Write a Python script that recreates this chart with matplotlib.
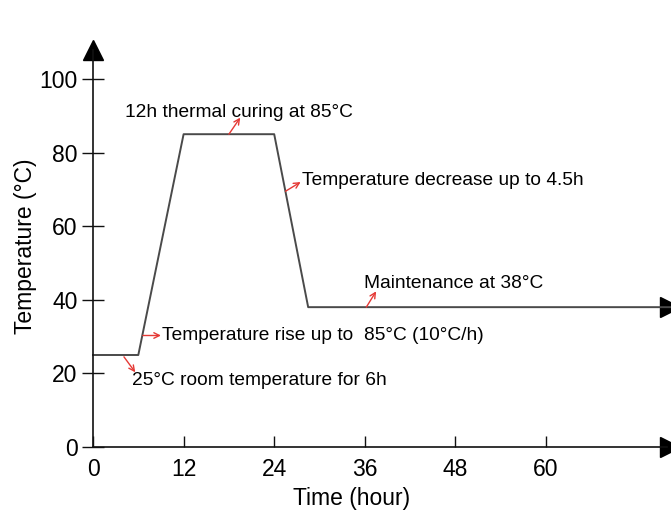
import matplotlib
matplotlib.use("Agg")
import matplotlib.pyplot as plt

plt.rcParams['font.family'] = ['Liberation Sans', 'DejaVu Sans']

# Data: temperature profile
time_h = [0, 6, 12, 24, 28.5, 76.6]
temp_c = [25, 25, 85, 85, 38, 38]

x_ticks = [0, 12, 24, 36, 48, 60]
y_ticks = [0, 20, 40, 60, 80, 100]

# annotations: (text, arrow start (x,y), arrow end (x,y), text pos (x,y))
annotations = [
    ("12h thermal curing at 85°C", (18.0, 85), (19.5, 89.5), (4.3, 91.0)),
    ("Temperature decrease up to 4.5h", (25.5, 69.5), (27.5, 72), (27.7, 72.5)),
    ("Maintenance at 38°C", (36.2, 38), (37.5, 42.3), (35.9, 44.5)),
    ("Temperature rise up to  85°C (10°C/h)", (6.6, 30.3), (9.0, 30.3), (9.2, 30.3)),
    ("25°C room temperature for 6h", (4.1, 24.5), (5.6, 20.3), (5.1, 18.0)),
]

W, H = 671, 514
fig = plt.figure(figsize=(W / 100, H / 100), dpi=100)
ax = fig.add_axes([0, 0, 1, 1])

px_per_h = 7.55
px_per_c = 3.68
x0_px, y0_px = 93, 447
ax.set_xlim(-x0_px / px_per_h, (W - x0_px) / px_per_h)
ax.set_ylim(-(H - y0_px) / px_per_c, y0_px / px_per_c)

axis_col = '#111111'
line_col = '#4a4a4a'
red = '#e53935'

for s in ['top', 'right']:
    ax.spines[s].set_visible(False)
ax.spines['left'].set_position(('data', 0))
ax.spines['bottom'].set_position(('data', 0))
ax.spines['left'].set_bounds(0, 108)
ax.spines['bottom'].set_bounds(0, 76)
for s in ['left', 'bottom']:
    ax.spines[s].set_color(axis_col)
    ax.spines[s].set_linewidth(1.2)

ax.set_xticks(x_ticks)
ax.set_yticks(y_ticks)
ax.tick_params(axis='y', direction='inout', length=16, width=1, color=axis_col,
               labelsize=16.5, pad=3)
ax.tick_params(axis='x', direction='in', length=8, width=1, color=axis_col,
               labelsize=16.5, pad=8)
ax.set_yticklabels([str(v) for v in y_ticks])
ax.set_xticklabels([str(v) for v in x_ticks])

# arrow heads
ax.plot([0], [108], marker='^', markersize=14, color='black', clip_on=False)
ax.plot([76.4], [0], marker='>', markersize=14, color='black', clip_on=False)
ax.plot([76.4], [38], marker='>', markersize=14, color='black', clip_on=False)

ax.plot(time_h, temp_c, color=line_col, lw=1.4)

for text, a0, a1, tp in annotations:
    ax.annotate('', xy=a1, xytext=a0,
                arrowprops=dict(arrowstyle='->', color=red, lw=1.0,
                                shrinkA=0, shrinkB=0))
    ax.text(tp[0], tp[1], text, fontsize=13.8, va='center', ha='left', color='black')

ax.text(-8.9, 54.5, 'Temperature (°C)', rotation=90, fontsize=16.5, va='center', ha='center')
ax.text(34.3, -14, 'Time (hour)', fontsize=16.5, va='center', ha='center')

fig.savefig('out.png', dpi=100)
